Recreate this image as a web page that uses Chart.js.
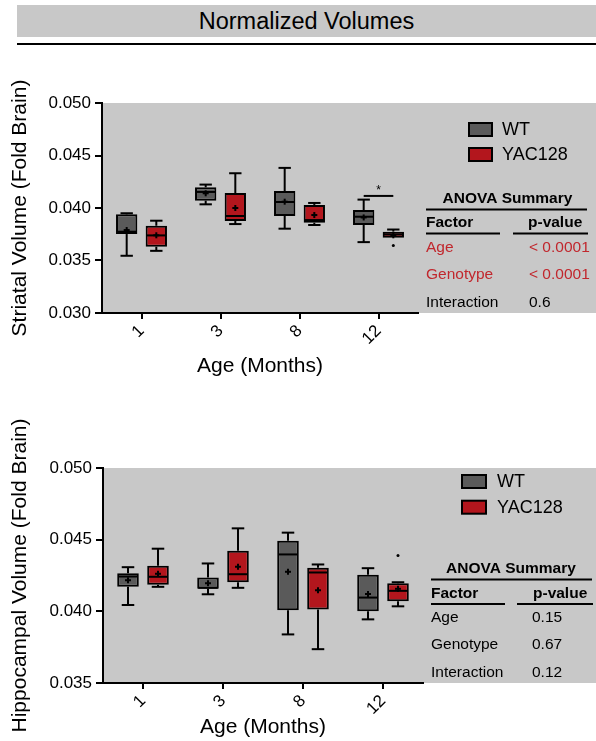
<!DOCTYPE html>
<html>
<head>
<meta charset="utf-8">
<script src="https://cdn.jsdelivr.net/npm/chart.js@4.4.1/dist/chart.umd.min.js"></script>
<style>
  body { margin: 0; background: #fff; font-family: 'Liberation Sans', Arial, sans-serif; }
  #page { position: relative; width: 596px; height: 741px; overflow: hidden; }
  #title { position: absolute; left: 17px; top: 5px; width: 579px; height: 32px; background: #c8c8c8;
           text-align: center; font-size: 23.5px; line-height: 33px; color: #000; }
  #rule { position: absolute; left: 17px; top: 43px; width: 579px; height: 2px; background: #000; }
  canvas { position: absolute; left: 0; }
</style>
</head>
<body>
<div id="page">
  <div id="title">Normalized Volumes</div>
  <div id="rule"></div>
  <canvas id="striatal" width="596" height="350" style="top:50px"></canvas>
  <canvas id="hippo" width="596" height="341" style="top:400px"></canvas>
</div>
<script>
const ages = ['1', '3', '8', '12'];
const genotypes = ['WT', 'YAC128'];

// box summaries per age: [min, q1, median, q3, max]
const striatalWT = [
  [0.03545, 0.03752, 0.03774, 0.03940, 0.03950],
  [0.04035, 0.04070, 0.04153, 0.04197, 0.04223],
  [0.03803, 0.03924, 0.04057, 0.04162, 0.04382],
  [0.03675, 0.03838, 0.03917, 0.03981, 0.04080]
];
const striatalWTMean = [0.0379, 0.0414, 0.0406, 0.0391];
const striatalYAC = [
  [0.03592, 0.03631, 0.03739, 0.03831, 0.03879],
  [0.03847, 0.03876, 0.03924, 0.04143, 0.04331],
  [0.03838, 0.03860, 0.03885, 0.04029, 0.04048],
  [0.03717, 0.03717, 0.03748, 0.03775, 0.03795]
];
const striatalYACMean = [0.0374, 0.0400, 0.03933, 0.0374];
const striatalYACOutliers = [[], [], [], [0.03643]];
const striatalTicks = [0.030, 0.035, 0.040, 0.045, 0.050];

const hippoWT = [
  [0.04044, 0.04171, 0.04243, 0.04266, 0.04308],
  [0.04119, 0.04157, 0.04164, 0.04236, 0.04334],
  [0.03839, 0.04007, 0.04397, 0.04493, 0.04549],
  [0.03944, 0.04000, 0.04096, 0.04255, 0.04301]
];
const hippoWTMean = [0.04217, 0.04196, 0.04276, 0.04121];
const hippoYAC = [
  [0.04171, 0.04185, 0.04241, 0.04318, 0.04437],
  [0.04164, 0.04203, 0.04259, 0.04423, 0.04579],
  [0.03736, 0.04012, 0.04271, 0.04304, 0.04327],
  [0.04035, 0.04070, 0.04143, 0.04196, 0.04203]
];
const hippoYACMean = [0.04262, 0.04311, 0.04147, 0.04157];
const hippoYACOutliers = [[], [], [], [0.04390]];
const hippoTicks = [0.035, 0.040, 0.045, 0.050];

const anovaFactors = ['Age', 'Genotype', 'Interaction'];
const striatalP = ['< 0.0001', '< 0.0001', '0.6'];
const striatalSig = [true, true, false];
const hippoP = ['0.15', '0.67', '0.12'];
const hippoSig = [false, false, false];

// WT vs YAC128 at 12 months, striatum
const starAge = 3;
const starLevel = 0.04115;

const GRAY = '#c8c8c8';
const RED_TEXT = '#c1272d';
const FONT = "'Liberation Sans', Arial, sans-serif";
Chart.defaults.font.family = FONT;
Chart.defaults.color = '#000';

function line(ctx, x1, y1, x2, y2) {
  ctx.beginPath();
  ctx.moveTo(x1, y1);
  ctx.lineTo(x2, y2);
  ctx.stroke();
}

const panelBg = {
  id: 'panelBg',
  beforeDraw(chart) {
    const {ctx, chartArea: a, width} = chart;
    ctx.save();
    ctx.fillStyle = GRAY;
    ctx.fillRect(a.left, a.top, width - a.left, a.bottom - a.top);
    ctx.restore();
  }
};

const boxDetails = {
  id: 'boxDetails',
  afterDatasetsDraw(chart) {
    const {ctx} = chart;
    const y = chart.scales.y;
    ctx.save();
    ctx.strokeStyle = '#000';
    ctx.fillStyle = '#000';
    ctx.lineWidth = 2;
    chart.data.datasets.forEach((ds, di) => {
      chart.getDatasetMeta(di).data.forEach((bar, j) => {
        const [mn, q1, med, q3, mx] = ds.stats[j];
        const {x, width} = bar.getProps(['x', 'width'], true);
        const half = width / 2, cap = width * 0.29;
        if (mx > q3) {
          line(ctx, x, y.getPixelForValue(q3), x, y.getPixelForValue(mx));
          line(ctx, x - cap, y.getPixelForValue(mx), x + cap, y.getPixelForValue(mx));
        }
        if (mn < q1) {
          line(ctx, x, y.getPixelForValue(q1), x, y.getPixelForValue(mn));
          line(ctx, x - cap, y.getPixelForValue(mn), x + cap, y.getPixelForValue(mn));
        }
        const ym = y.getPixelForValue(med);
        line(ctx, x - half + 1, ym, x + half - 1, ym);
        const ya = y.getPixelForValue(ds.means[j]);
        line(ctx, x - 3, ya, x + 3, ya);
        line(ctx, x, ya - 3, x, ya + 3);
        (ds.outliers[j] || []).forEach(v => {
          ctx.beginPath();
          ctx.arc(x, y.getPixelForValue(v), 1.5, 0, Math.PI * 2);
          ctx.fill();
        });
      });
    });
    ctx.restore();
  }
};

const sideLegend = {
  id: 'sideLegend',
  afterDraw(chart, args, o) {
    const {ctx} = chart;
    ctx.save();
    ctx.font = o.size + 'px ' + FONT;
    ctx.textBaseline = 'middle';
    chart.data.datasets.forEach((ds, i) => {
      const top = o.y + i * o.gap;
      ctx.fillStyle = '#000';
      ctx.fillRect(o.x, top, o.w, o.h);
      ctx.fillStyle = ds.backgroundColor;
      ctx.fillRect(o.x + 2, top + 2, o.w - 4, o.h - 4);
      ctx.fillStyle = '#000';
      ctx.fillText(ds.label, o.textX, top + o.h / 2 + 1);
    });
    ctx.restore();
  }
};

const anovaTable = {
  id: 'anovaTable',
  afterDraw(chart, args, o) {
    const {ctx} = chart;
    ctx.save();
    ctx.strokeStyle = '#000';
    ctx.lineWidth = 2;
    ctx.textBaseline = 'middle';
    ctx.fillStyle = '#000';
    ctx.font = 'bold ' + o.size + 'px ' + FONT;
    ctx.textAlign = 'center';
    ctx.fillText('ANOVA Summary', o.cx, o.titleY);
    line(ctx, o.left, o.lineY, o.right, o.lineY);
    ctx.textAlign = 'left';
    ctx.fillText('Factor', o.left, o.headY);
    ctx.fillText('p-value', o.pHeadX, o.headY);
    line(ctx, o.left, o.underY, o.u1, o.underY);
    line(ctx, o.u2, o.underY, o.right + 1, o.underY);
    ctx.font = o.size + 'px ' + FONT;
    o.factors.forEach((f, i) => {
      const ry = o.rowY + i * o.rowStep;
      ctx.fillStyle = o.sig[i] ? RED_TEXT : '#000';
      ctx.fillText(f, o.left, ry);
      ctx.fillText(o.p[i], o.valX, ry);
    });
    ctx.restore();
  }
};

const starBar = {
  id: 'starBar',
  afterDatasetsDraw(chart, args, o) {
    if (!o.show) return;
    const {ctx} = chart;
    const a = chart.getDatasetMeta(0).data[starAge];
    const b = chart.getDatasetMeta(1).data[starAge];
    const yy = chart.scales.y.getPixelForValue(starLevel);
    ctx.save();
    ctx.strokeStyle = '#000';
    ctx.lineWidth = 2;
    line(ctx, a.x, yy, b.x, yy);
    ctx.fillStyle = '#000';
    ctx.font = '12px ' + FONT;
    ctx.textAlign = 'center';
    ctx.textBaseline = 'middle';
    ctx.fillText('*', (a.x + b.x) / 2, yy - 5);
    ctx.restore();
  }
};

function makeChart(id, p) {
  const boxDs = (label, color, stats, means, outliers) => ({
    label: label,
    data: stats.map(s => [s[1], s[3]]),
    stats: stats,
    means: means,
    outliers: outliers,
    backgroundColor: color,
    borderColor: '#000',
    borderWidth: 2,
    borderSkipped: false,
    categoryPercentage: 0.75,
    barPercentage: 0.72
  });
  return new Chart(document.getElementById(id), {
    type: 'bar',
    data: {
      labels: ages,
      datasets: [
        boxDs(genotypes[0], '#5a5a5a', p.wt, p.wtMean, [[], [], [], []]),
        boxDs(genotypes[1], '#b3161d', p.yac, p.yacMean, p.yacOut)
      ]
    },
    options: {
      responsive: false,
      devicePixelRatio: 1,
      animation: false,
      layout: { padding: { top: p.padTop, right: p.padRight, left: 0, bottom: 0 } },
      plugins: {
        legend: { display: false },
        tooltip: { enabled: false },
        sideLegend: p.legend,
        anovaTable: p.table,
        starBar: { show: p.star }
      },
      scales: {
        x: {
          offset: true,
          grid: { offset: false, drawOnChartArea: false, tickLength: 6, color: '#000', lineWidth: 2 },
          border: { display: true, color: '#000', width: 2 },
          ticks: { autoSkip: false, minRotation: 45, maxRotation: 45, padding: 2, font: { size: 17 } },
          title: { display: true, text: 'Age (Months)', font: { size: 21 }, padding: { top: 0, bottom: p.xTitlePad } },
          afterFit: s => { s.height = p.xHeight; }
        },
        y: {
          min: p.ticks[0],
          max: p.ticks[p.ticks.length - 1],
          afterBuildTicks: s => { s.ticks = p.ticks.map(v => ({ value: v })); },
          grid: { drawOnChartArea: false, tickLength: 7, color: '#000', lineWidth: 2 },
          border: { display: true, color: '#000', width: 2 },
          ticks: { padding: 4, font: { size: 17 }, callback: v => Number(v).toFixed(3) },
          title: { display: true, text: p.yTitle, font: { size: 21 }, padding: { top: 8, bottom: 0 } },
          afterFit: s => { s.width = p.yWidth; }
        }
      }
    },
    plugins: [panelBg, boxDetails, starBar, sideLegend, anovaTable]
  });
}

makeChart('striatal', {
  wt: striatalWT, wtMean: striatalWTMean,
  yac: striatalYAC, yacMean: striatalYACMean, yacOut: striatalYACOutliers,
  ticks: striatalTicks,
  yTitle: 'Striatal Volume (Fold Brain)',
  padTop: 53, padRight: 178, yWidth: 102, xHeight: 87, xTitlePad: 21,
  star: true,
  legend: { x: 468, y: 72, w: 25, h: 15, gap: 25, textX: 502, size: 18 },
  table: { size: 15.5, cx: 507.5, titleY: 148.5, left: 426, right: 587, lineY: 159.5,
           headY: 172.5, pHeadX: 528, underY: 183.5, u1: 500, u2: 513,
           valX: 529, rowY: 197.5, rowStep: 27.5,
           factors: anovaFactors, p: striatalP, sig: striatalSig }
});

makeChart('hippo', {
  wt: hippoWT, wtMean: hippoWTMean,
  yac: hippoYAC, yacMean: hippoYACMean, yacOut: hippoYACOutliers,
  ticks: hippoTicks,
  yTitle: 'Hippocampal Volume (Fold Brain)',
  padTop: 68, padRight: 173, yWidth: 103, xHeight: 58, xTitlePad: 1,
  star: false,
  legend: { x: 461, y: 74, w: 26, h: 15, gap: 25.7, textX: 497, size: 18 },
  table: { size: 15.5, cx: 511, titleY: 169, left: 431, right: 592, lineY: 179.5,
           headY: 194, pHeadX: 533, underY: 204, u1: 505, u2: 517,
           valX: 532, rowY: 217.5, rowStep: 27.5,
           factors: anovaFactors, p: hippoP, sig: hippoSig }
});
</script>
</body>
</html>
